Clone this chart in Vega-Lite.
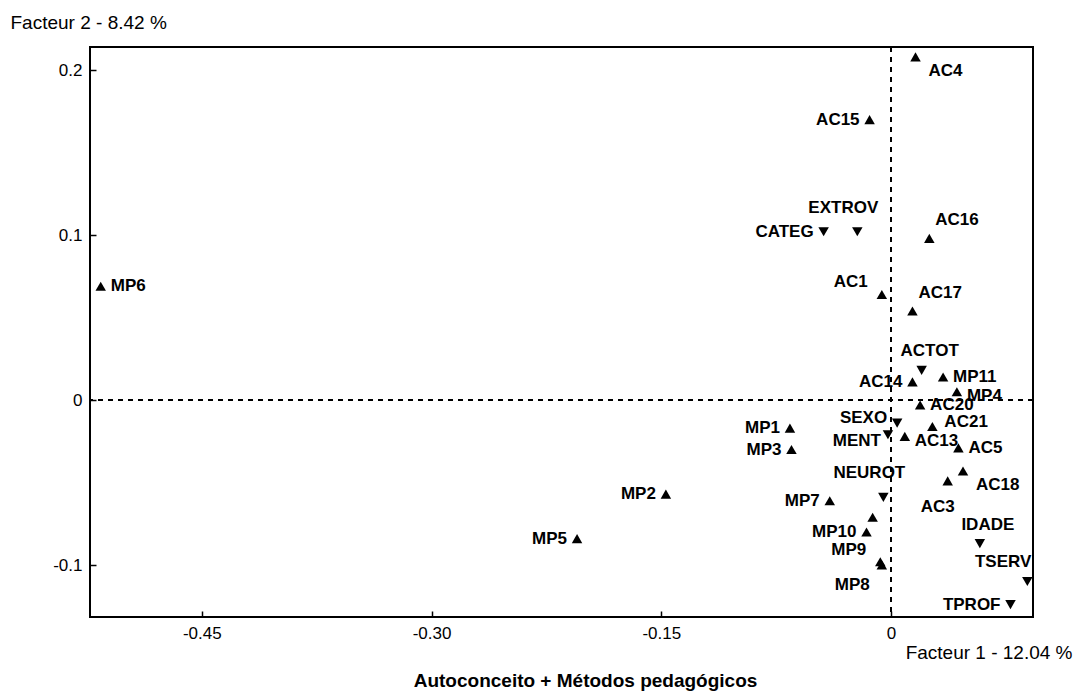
{
  "$schema": "https://vega.github.io/schema/vega-lite/v6.json",
  "width": 943,
  "height": 570,
  "autosize": {"type": "none"},
  "padding": {"left": 90, "top": 47, "right": 49, "bottom": 78},
  "background": "white",
  "config": {
    "view": {"stroke": "black", "strokeWidth": 2},
    "font": "Liberation Sans"
  },
  "title": {
    "text": "Autoconceito + Métodos pedagógicos",
    "orient": "bottom",
    "frame": "group",
    "anchor": "middle",
    "dx": 24,
    "offset": 10,
    "font": "Liberation Sans",
    "fontSize": 19,
    "fontWeight": "bold",
    "color": "black"
  },
  "data": {
    "values": [
      {"label": "AC4", "x": 0.016, "y": 0.208, "type": "active"},
      {"label": "AC15", "x": -0.014, "y": 0.170, "type": "active"},
      {"label": "AC16", "x": 0.025, "y": 0.098, "type": "active"},
      {"label": "AC1", "x": -0.006, "y": 0.064, "type": "active"},
      {"label": "AC17", "x": 0.014, "y": 0.054, "type": "active"},
      {"label": "MP6", "x": -0.516, "y": 0.069, "type": "active"},
      {"label": "AC14", "x": 0.014, "y": 0.011, "type": "active"},
      {"label": "MP11", "x": 0.034, "y": 0.014, "type": "active"},
      {"label": "MP4", "x": 0.043, "y": 0.005, "type": "active"},
      {"label": "AC20", "x": 0.019, "y": -0.003, "type": "active"},
      {"label": "AC21", "x": 0.027, "y": -0.016, "type": "active"},
      {"label": "AC5", "x": 0.044, "y": -0.029, "type": "active"},
      {"label": "AC13", "x": 0.009, "y": -0.022, "type": "active"},
      {"label": "MP1", "x": -0.066, "y": -0.017, "type": "active"},
      {"label": "MP3", "x": -0.065, "y": -0.030, "type": "active"},
      {"label": "AC3", "x": 0.037, "y": -0.049, "type": "active"},
      {"label": "AC18", "x": 0.047, "y": -0.043, "type": "active"},
      {"label": "MP2", "x": -0.147, "y": -0.057, "type": "active"},
      {"label": "MP5", "x": -0.205, "y": -0.084, "type": "active"},
      {"label": "MP7", "x": -0.040, "y": -0.061, "type": "active"},
      {"label": "", "x": -0.012, "y": -0.071, "type": "active"},
      {"label": "MP10", "x": -0.016, "y": -0.080, "type": "active"},
      {"label": "MP9", "x": -0.007, "y": -0.098, "type": "active"},
      {"label": "MP8", "x": -0.006, "y": -0.100, "type": "active"},
      {"label": "CATEG", "x": -0.044, "y": 0.102, "type": "supp"},
      {"label": "EXTROV", "x": -0.022, "y": 0.102, "type": "supp"},
      {"label": "ACTOT", "x": 0.020, "y": 0.018, "type": "supp"},
      {"label": "SEXO", "x": 0.004, "y": -0.014, "type": "supp"},
      {"label": "MENT", "x": -0.002, "y": -0.021, "type": "supp"},
      {"label": "NEUROT", "x": -0.005, "y": -0.059, "type": "supp"},
      {"label": "IDADE", "x": 0.058, "y": -0.087, "type": "supp"},
      {"label": "TSERV", "x": 0.089, "y": -0.110, "type": "supp"},
      {"label": "TPROF", "x": 0.078, "y": -0.124, "type": "supp"}
    ]
  },
  "encoding": {
    "x": {
      "field": "x", "type": "quantitative",
      "scale": {"domain": [-0.523, 0.0927], "nice": false, "zero": false},
      "axis": {
        "values": [-0.45, -0.3, -0.15, 0],
        "labelExpr": "datum.value == 0 ? '0' : replace(format(datum.value, '.2f'), '\u2212', '-')",
        "grid": false, "domain": false,
        "tickColor": "black", "tickSize": -6, "tickWidth": 1.5,
        "labelPadding": 14, "labelFontSize": 17, "labelColor": "black", "labelFont": "Liberation Sans",
        "title": "Facteur 1  -  12.04 %",
        "titleFont": "Liberation Sans", "titleFontWeight": "normal", "titleFontSize": 19, "titleColor": "black",
        "titleAnchor": "end", "titleAlign": "right", "titleBaseline": "middle",
        "titleX": 982, "titleY": 35
      }
    },
    "y": {
      "field": "y", "type": "quantitative",
      "scale": {"domain": [-0.1315, 0.214], "nice": false, "zero": false},
      "axis": {
        "values": [-0.1, 0, 0.1, 0.2],
        "labelExpr": "datum.value == 0 ? '0' : replace(format(datum.value, '.1f'), '\u2212', '-')",
        "grid": false, "domain": false,
        "tickColor": "black", "tickSize": -6, "tickWidth": 1.5,
        "labelPadding": 14, "labelFontSize": 17, "labelColor": "black", "labelFont": "Liberation Sans",
        "title": "Facteur 2  -  8.42 %",
        "titleFont": "Liberation Sans", "titleFontWeight": "normal", "titleFontSize": 19, "titleColor": "black",
        "titleAngle": 0, "titleAlign": "left", "titleBaseline": "middle",
        "titleX": -80, "titleY": -25
      }
    }
  },
  "layer": [
    {"mark": {"type": "rule", "strokeDash": [5, 5], "strokeWidth": 1.5, "color": "black"}, "encoding": {"x": {"datum": 0}, "y": null}},
    {"mark": {"type": "rule", "strokeDash": [5, 5], "strokeWidth": 1.5, "color": "black"}, "encoding": {"y": {"datum": 0}, "x": null}},
    {
      "mark": {"type": "point", "filled": true, "opacity": 1, "size": 110, "color": "black"},
      "encoding": {
        "shape": {"field": "type", "type": "nominal", "scale": {"domain": ["active", "supp"], "range": ["triangle-up", "triangle-down"]}, "legend": null}
      }
    },
    {
      "transform": [{"filter": "indexof(['MP6','MP11','AC20','AC5'], datum.label) >= 0"}],
      "mark": {"type": "text", "align": "left", "baseline": "middle", "dx": 10, "dy": 0, "font": "Liberation Sans", "fontWeight": "bold", "fontSize": 17, "color": "black"},
      "encoding": {"text": {"field": "label"}}
    },
    {
      "transform": [{"filter": "indexof(['MP4'], datum.label) >= 0"}],
      "mark": {"type": "text", "align": "left", "baseline": "middle", "dx": 10, "dy": 4, "font": "Liberation Sans", "fontWeight": "bold", "fontSize": 17, "color": "black"},
      "encoding": {"text": {"field": "label"}}
    },
    {
      "transform": [{"filter": "indexof(['AC21'], datum.label) >= 0"}],
      "mark": {"type": "text", "align": "left", "baseline": "middle", "dx": 12, "dy": -4, "font": "Liberation Sans", "fontWeight": "bold", "fontSize": 17, "color": "black"},
      "encoding": {"text": {"field": "label"}}
    },
    {
      "transform": [{"filter": "indexof(['AC13'], datum.label) >= 0"}],
      "mark": {"type": "text", "align": "left", "baseline": "middle", "dx": 10, "dy": 5, "font": "Liberation Sans", "fontWeight": "bold", "fontSize": 17, "color": "black"},
      "encoding": {"text": {"field": "label"}}
    },
    {
      "transform": [{"filter": "indexof(['AC4','AC18'], datum.label) >= 0"}],
      "mark": {"type": "text", "align": "left", "baseline": "middle", "dx": 13, "dy": 14, "font": "Liberation Sans", "fontWeight": "bold", "fontSize": 17, "color": "black"},
      "encoding": {"text": {"field": "label"}}
    },
    {
      "transform": [{"filter": "indexof(['AC16','AC17'], datum.label) >= 0"}],
      "mark": {"type": "text", "align": "left", "baseline": "middle", "dx": 6, "dy": -18, "font": "Liberation Sans", "fontWeight": "bold", "fontSize": 17, "color": "black"},
      "encoding": {"text": {"field": "label"}}
    },
    {
      "transform": [{"filter": "indexof(['AC15','CATEG','AC14','MP1','MP3','MP2','MP5','MP7','MP10','TPROF'], datum.label) >= 0"}],
      "mark": {"type": "text", "align": "right", "baseline": "middle", "dx": -10, "dy": 0, "font": "Liberation Sans", "fontWeight": "bold", "fontSize": 17, "color": "black"},
      "encoding": {"text": {"field": "label"}}
    },
    {
      "transform": [{"filter": "indexof(['SEXO'], datum.label) >= 0"}],
      "mark": {"type": "text", "align": "right", "baseline": "middle", "dx": -10, "dy": -5, "font": "Liberation Sans", "fontWeight": "bold", "fontSize": 17, "color": "black"},
      "encoding": {"text": {"field": "label"}}
    },
    {
      "transform": [{"filter": "indexof(['MENT'], datum.label) >= 0"}],
      "mark": {"type": "text", "align": "right", "baseline": "middle", "dx": -7, "dy": 6, "font": "Liberation Sans", "fontWeight": "bold", "fontSize": 17, "color": "black"},
      "encoding": {"text": {"field": "label"}}
    },
    {
      "transform": [{"filter": "indexof(['AC1','MP9'], datum.label) >= 0"}],
      "mark": {"type": "text", "align": "right", "baseline": "middle", "dx": -14, "dy": -12, "font": "Liberation Sans", "fontWeight": "bold", "fontSize": 17, "color": "black"},
      "encoding": {"text": {"field": "label"}}
    },
    {
      "transform": [{"filter": "indexof(['MP8'], datum.label) >= 0"}],
      "mark": {"type": "text", "align": "right", "baseline": "middle", "dx": -12, "dy": 20, "font": "Liberation Sans", "fontWeight": "bold", "fontSize": 17, "color": "black"},
      "encoding": {"text": {"field": "label"}}
    },
    {
      "transform": [{"filter": "indexof(['AC3'], datum.label) >= 0"}],
      "mark": {"type": "text", "align": "center", "baseline": "middle", "dx": -10, "dy": 26, "font": "Liberation Sans", "fontWeight": "bold", "fontSize": 17, "color": "black"},
      "encoding": {"text": {"field": "label"}}
    },
    {
      "transform": [{"filter": "indexof(['EXTROV','NEUROT'], datum.label) >= 0"}],
      "mark": {"type": "text", "align": "center", "baseline": "middle", "dx": -14, "dy": -24, "font": "Liberation Sans", "fontWeight": "bold", "fontSize": 17, "color": "black"},
      "encoding": {"text": {"field": "label"}}
    },
    {
      "transform": [{"filter": "indexof(['ACTOT','IDADE'], datum.label) >= 0"}],
      "mark": {"type": "text", "align": "center", "baseline": "middle", "dx": 8, "dy": -19, "font": "Liberation Sans", "fontWeight": "bold", "fontSize": 17, "color": "black"},
      "encoding": {"text": {"field": "label"}}
    },
    {
      "transform": [{"filter": "indexof(['TSERV'], datum.label) >= 0"}],
      "mark": {"type": "text", "align": "right", "baseline": "middle", "dx": 4, "dy": -20, "font": "Liberation Sans", "fontWeight": "bold", "fontSize": 17, "color": "black"},
      "encoding": {"text": {"field": "label"}}
    }
  ]
}
